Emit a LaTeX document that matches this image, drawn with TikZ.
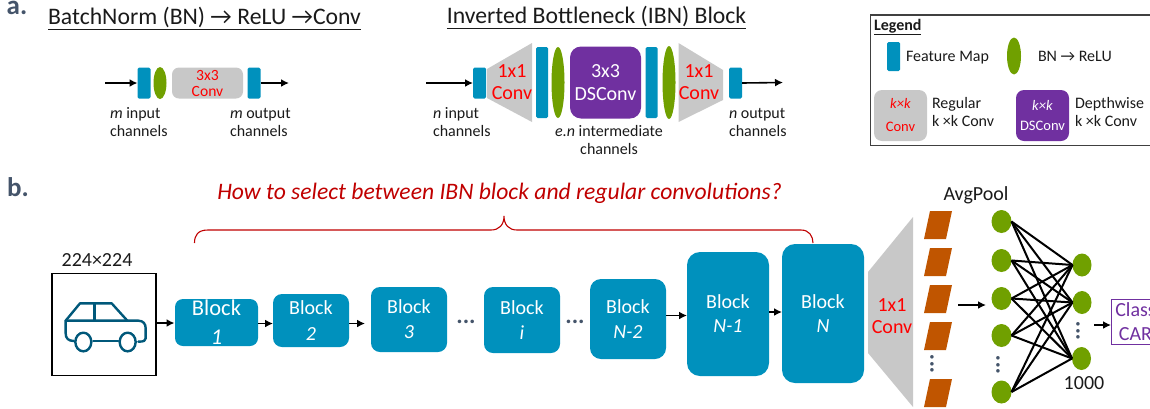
\documentclass[tikz,border=0pt]{standalone}
\usepackage{fontspec}
\setmainfont{Carlito}
\usetikzlibrary{arrows.meta,shapes.geometric}
\definecolor{fmblue}{HTML}{0091BD}
\definecolor{bngreen}{HTML}{70A000}
\definecolor{convgrey}{HTML}{C8C8C8}
\definecolor{dspurple}{HTML}{7030A0}
\definecolor{poolorange}{HTML}{C05500}
\definecolor{cardark}{HTML}{00587A}
\definecolor{qred}{HTML}{C00000}
\definecolor{slategrey}{HTML}{44546A}
\definecolor{inktext}{HTML}{1A1A1A}
\newcommand{\fs}[2]{\fontsize{#1}{#2}\selectfont}
\tikzset{
  every node/.style={inner sep=0pt,outer sep=0pt,text=inktext},
  fm/.style={fill=fmblue,rounded corners=1.5pt,minimum width=13pt},
  bn/.style={ellipse,fill=bngreen,minimum width=13pt},
  conv/.style={fill=convgrey,rounded corners=#1},
  dsconv/.style={fill=dspurple,rounded corners=#1},
  blockbox/.style={fill=fmblue,rounded corners=#1,text=white,align=center},
  neuron/.style={ellipse,fill=bngreen,minimum width=20pt,minimum height=23pt},
  flow/.style={-{Latex[length=8pt,width=8pt]},line width=1.6pt,black},
  lab/.style={font=\fs{16}{18},align=left,anchor=west},
  labc/.style={font=\fs{16}{17.5},align=center},
  ttl/.style={font=\fs{23.7}{26},anchor=center},
  redbig/.style={text=red,font=\fs{20}{22},align=center},
  pool/.style={fill=poolorange},
  dotsh/.style={text=slategrey,font=\bfseries\fs{24}{24}},
  link/.style={line width=2pt,black},
  carline/.style={draw=cardark,line width=2.4pt,line join=round,line cap=round}
}
\begin{document}
\begin{tikzpicture}[x=1pt,y=-1pt]
\path[use as bounding box] (0,0) rectangle (1150,408);
\clip (0,0) rectangle (1150,408);
% panel labels
\node[text=slategrey,font=\bfseries\fs{27}{27},anchor=base] (pa) at (17,14) {a.};
\node[text=slategrey,font=\bfseries\fs{27}{27},anchor=base] (pb) at (18,196) {b.};
% panel a left
\node[ttl] (t1) at (204.5,18) {\underline{BatchNorm (BN) → ReLU →Conv}};
\coordinate (ain) at (105,83);
\coordinate (aout) at (289,83);
\node[fm,minimum height=31pt] (a1) at (144,83) {};
\node[bn,minimum height=32pt] (a2) at (160,83) {};
\node[conv=7pt,minimum width=71pt,minimum height=31pt,text=red,font=\fs{15.6}{16},align=center] (a3) at (207.5,83) {3x3\\Conv};
\node[fm,minimum height=31pt] (a4) at (254,83) {};
\draw[flow] (ain) -- (a1.west);
\draw[flow] (a4.east) -- (aout);
\node[lab] (al1) at (110,122) {\textit{m} input\\channels};
\node[lab] (al2) at (230,122) {\textit{m} output\\channels};
% panel a right
\node[ttl] (t2) at (596.5,17) {\underline{Inverted Bottleneck (IBN) Block}};
\coordinate (bin) at (426,83);
\coordinate (bout) at (783,82.5);
\node[fm,minimum height=31pt] (c1) at (479.5,83) {};
\fill[convgrey] (487,69) -- (532,43) -- (532,122) -- (487,98) -- cycle;
\node[redbig] (c2) at (512,82) {1x1\\Conv};
\node[fm,minimum height=71pt,minimum width=12pt] (c3) at (542,82.5) {};
\node[bn,minimum height=71pt] (c4) at (558,82.5) {};
\node[dsconv=11pt,minimum width=71pt,minimum height=72pt,text=white,font=\fs{20}{23},align=center] (c5) at (605.5,82.5) {3x3\\DSConv};
\node[fm,minimum height=71pt,minimum width=12pt] (c6) at (651.5,82.5) {};
\node[bn,minimum height=73pt] (c7) at (669,82.5) {};
\fill[convgrey] (678.5,43) -- (723,70) -- (723,100) -- (678.5,122) -- cycle;
\node[redbig] (c8) at (699,82) {1x1\\Conv};
\node[fm,minimum height=31pt] (c9) at (735.5,83) {};
\draw[flow] (bin) -- (c1.west);
\draw[flow] (c9.east) -- (bout);
\node[lab] (cl1) at (433,122) {\textit{n} input\\channels};
\node[labc] (cl2) at (609,140) {\textit{e.n} intermediate\\channels};
\node[lab] (cl3) at (729,122) {\textit{n} output\\channels};
% legend
\draw[line width=1.2pt,draw=black!75] (870.5,15) rectangle (1170,145.5);
\node[font=\bfseries\fs{16}{16},anchor=west] (lg) at (874,27) {\underline{Legend}};
\node[fm,minimum height=29pt] (l1) at (893.5,56.5) {};
\node[font=\fs{16}{18},anchor=base west] (l1t) at (906,61.5) {Feature Map};
\node[bn,minimum width=14pt,minimum height=37pt] (l2) at (1014,56) {};
\node[font=\fs{16}{18},anchor=base west] (l2t) at (1038,61.5) {BN → ReLU};
\node[conv=8pt,minimum width=53pt,minimum height=51pt,text=red,font=\fs{14.5}{23},align=center] (l3) at (900.5,115.5) {\textit{k×k}\\Conv};
\node[lab,font=\fs{16}{18}] (l3t) at (932,112) {Regular\\k ×k Conv};
\node[dsconv=8pt,minimum width=53pt,minimum height=51pt,text=white,font=\fs{14.5}{20},align=center] (l4) at (1042.5,115.5) {\textit{k×k}\\DSConv};
\node[lab,font=\fs{16}{18}] (l4t) at (1075,112) {Depthwise\\k ×k Conv};
% panel b question and brace
\node[text=qred,font=\itshape\fs{23.6}{24}] (q) at (499.5,193) {How to select between IBN block and regular convolutions?};
\draw[draw=qred,line width=1.1pt] (194.5,243) .. controls (194.5,235) and (198,230) .. (208,230) -- (491,230) .. controls (499,230) and (504,225) .. (504,216) .. controls (504,225) and (509,230) .. (517,230) -- (801,230) .. controls (809,230) and (813,236) .. (813,243);
% input image
\node[font=\fs{20}{22}] (size) at (97,260) {224×224};
\node[draw=black,line width=1.2pt,minimum width=104pt,minimum height=102pt] (img) at (104,324.5) {};
\begin{scope}[shift={(0,170)},scale=1/3]
\draw[carline] (222,513) .. controls (205,513) and (197,505) .. (197,490) -- (197,452) -- (240,400) -- (335,400) -- (382,452);
\draw[carline] (197,452) -- (415,452) .. controls (430,452) and (437,462) .. (437,475) -- (437,505) .. controls (437,512) and (432,515) .. (415,515);
\draw[carline] (284,400) -- (284,452);
\draw[carline] (280,513) -- (355,513);
\draw[carline] (250,516) ellipse (24 and 28);
\draw[carline] (383,516) ellipse (24 and 28);
\end{scope}
% blocks
\node[blockbox=8pt,minimum width=83pt,minimum height=47pt,font=\fs{22.5}{29}] (b1) at (216.5,322.5) {Block\\\textit{1}};
\node[blockbox=9pt,minimum width=76pt,minimum height=53pt,font=\fs{20}{26}] (b2) at (311,320.5) {Block\\\textit{2}};
\node[blockbox=9pt,minimum width=76pt,minimum height=65pt,font=\fs{20}{25}] (b3) at (409,319.5) {Block\\\textit{3}};
\node[dotsh] (d1) at (466,322) {...};
\node[blockbox=9pt,minimum width=76pt,minimum height=66pt,font=\fs{20}{25}] (bi) at (522,320) {Block\\\textit{i}};
\node[dotsh] (d2) at (575,322) {...};
\node[blockbox=11pt,minimum width=76pt,minimum height=80pt,font=\fs{20}{25}] (bn2) at (628,319) {Block\\\textit{N-2}};
\node[blockbox=13pt,minimum width=82pt,minimum height=124pt,font=\fs{20}{24}] (bn1) at (728,314) {Block\\\textit{N-1}};
\node[blockbox=13pt,minimum width=82pt,minimum height=139pt,font=\fs{20}{24}] (bn) at (823,313.5) {Block\\\textit{N}};
\draw[flow,shorten >=0.5pt] (img.east |- 0,323) -- (b1.west |- 0,323);
\draw[flow] ([yshift=-1pt]b1.east) -- ([yshift=-1pt]b1.east -| b2.west);
\draw[flow] ([yshift=-3pt]b2.east) -- ([yshift=-3pt,xshift=16pt]b2.east);
\draw[flow] ([yshift=3.5pt]bn2.east) -- ([yshift=3.5pt]bn2.east -| bn1.west);
\draw[flow] ([yshift=2pt]bn1.east) -- ([yshift=2pt]bn1.east -| bn.west);
% 1x1 conv
\fill[convgrey] (868,272) -- (913,217) -- (913,407) -- (868,353) -- cycle;
\node[redbig] (e1) at (892,316) {1x1\\Conv};
% avgpool
\node[font=\fs{20}{22}] (avg) at (976,195) {AvgPool};
\fill[pool] (930,211) -- (952,211) -- (946,239) -- (924,239) -- cycle;
\fill[pool] (930,248) -- (952,248) -- (946,276) -- (924,276) -- cycle;
\fill[pool] (930,285) -- (952,285) -- (946,313) -- (924,313) -- cycle;
\fill[pool] (930,322) -- (952,322) -- (946,350) -- (924,350) -- cycle;
\fill[pool] (930,379) -- (952,379) -- (946,407) -- (924,407) -- cycle;
\node[dotsh,rotate=90] (d3) at (932,364) {...};
% network
\node[neuron] (n1) at (1001.5,221.5) {};
\node[neuron] (n2) at (1001.5,260.5) {};
\node[neuron] (n3) at (1001.5,298.5) {};
\node[neuron] (n4) at (1001.5,335.5) {};
\node[neuron] (n5) at (1001.5,392) {};
\node[dotsh,rotate=90] (d4) at (998,365) {...};
\node[neuron,minimum width=19pt] (m1) at (1082,265) {};
\node[neuron,minimum width=19pt] (m2) at (1082,302.5) {};
\node[neuron,minimum width=19pt] (m3) at (1081.5,358.5) {};
\node[dotsh,rotate=90] (d5) at (1078,331) {...};
\foreach \a in {n1,n2,n3,n4,n5}
  \foreach \b in {m1,m2,m3}
    \draw[link] (\a.east) -- (\b.west);
\coordinate (p1) at (958,305);
\coordinate (p2) at (986,305);
\draw[flow] (p1) -- (p2);
\node[font=\fs{20}{22}] (k) at (1084,383) {1000};
% class box
\node[draw=dspurple,line width=1pt,fill=white,text=dspurple,font=\fs{20}{24},align=center,minimum width=54pt,minimum height=45pt] (cls) at (1138,321.5) {\hspace*{-5pt}Class\\\hspace*{-5pt}CAR};
\coordinate (p3) at (1094,325);
\draw[flow] (p3) -- (p3 -| cls.west);
\end{tikzpicture}
\end{document}
